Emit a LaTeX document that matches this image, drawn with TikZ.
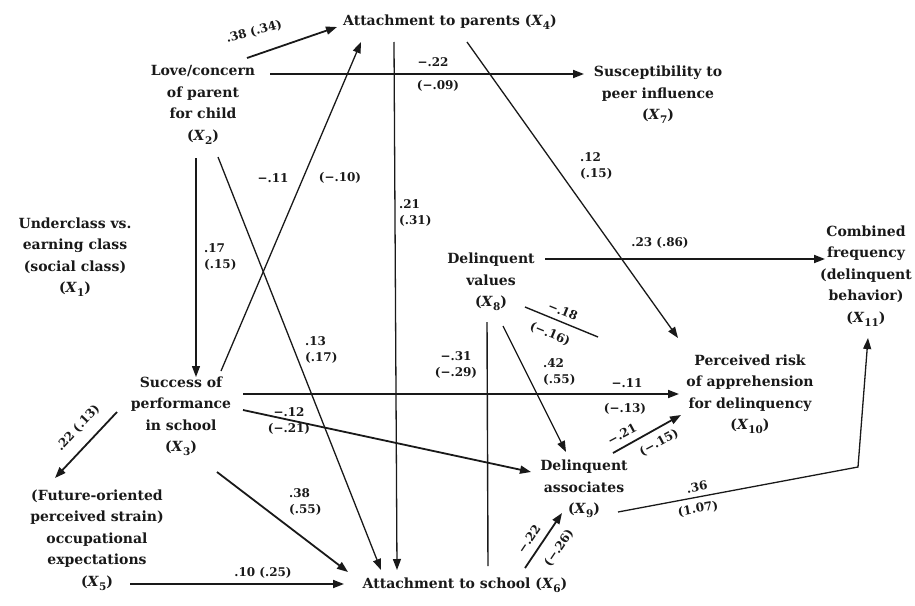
\documentclass[tikz,border=0pt]{standalone}
\usepackage{fontspec}
\setmainfont{DejaVu Serif}
\usetikzlibrary{arrows.meta}
\definecolor{inkblack}{RGB}{25,25,25}
\newcommand\varx[1]{\textit{X}\raisebox{-0.55ex}{\fontsize{10.5}{10.5}\selectfont#1}}

\begin{document}
\begin{tikzpicture}[
    x=1pt, y=-1pt,
    var/.style={align=center, inner sep=1pt, text=inkblack, font=\fontsize{14}{21.5}\selectfont\bfseries},
    coef/.style={align=left, inner sep=0pt, text=inkblack, font=\fontsize{12}{16.5}\selectfont\bfseries},
    effect/.style={-{Triangle[length=11pt,width=8pt]}, line width=1.8pt, draw=inkblack},
    thin effect/.style={effect, line width=1.3pt},
    link/.style={line width=1.4pt, draw=inkblack}
]
\useasboundingbox (0,0) rectangle (915,605);

\node[var] (x1) at (75,257) {Underclass vs.\\earning class\\(social class)\\(\varx{1})};
\node[var] (x2) at (203,105) {Love/concern\\of parent\\for child\\(\varx{2})};
\node[var] (x3) at (181,416) {Success of\\performance\\in school\\(\varx{3})};
\node[var] (x4) at (450,22) {Attachment to parents (\varx{4})};
\node[var] (x5) at (97,540) {(Future-oriented\\perceived strain)\\occupational\\expectations\\(\varx{5})};
\node[var] (x6) at (465,585) {Attachment to school (\varx{6})};
\node[var] (x7) at (658,95) {Susceptibility to\\peer influence\\(\varx{7})};
\node[var] (x8) at (491,282) {Delinquent\\values\\(\varx{8})};
\node[var] (x9) at (584,489) {Delinquent\\associates\\(\varx{9})};
\node[var] (x10) at (750,394) {Perceived risk\\of apprehension\\for delinquency\\(\varx{10})};
\node[var] (x11) at (866,276) {Combined\\frequency\\(delinquent\\behavior)\\(\varx{11})};

\coordinate (x8end) at (598,337);
\coordinate (bend) at (858,467);

\draw[effect] ([shift={(44,-47)}]x2.center) -- ([shift={(-113,5)}]x4.center);
\draw[effect] ([shift={(67,-31)}]x2.center) -- ([shift={(-74,-21)}]x7.center);
\draw[thin effect] ([shift={(-7,53)}]x2.center) -- ([shift={(15,-39)}]x3.center);
\draw[thin effect] ([shift={(15,52)}]x2.center) -- ([shift={(-84,-15)}]x6.center);
\draw[thin effect] ([shift={(40,-45)}]x3.center) -- ([shift={(-89,20)}]x4.center);
\draw[thin effect] ([shift={(-56,20)}]x4.center) -- ([shift={(-68,-15)}]x6.center);
\draw[thin effect] ([shift={(17,20)}]x4.center) -- ([shift={(-72,-56)}]x10.center);
\draw[effect] ([shift={(54,-23)}]x8.center) -- ([shift={(-41,-17)}]x11.center);
\draw[link] ([shift={(34,25)}]x8.center) -- (x8end);
\draw[link] ([shift={(-4,40)}]x8.center) -- ([shift={(23,-19)}]x6.center);
\draw[thin effect] ([shift={(12,44)}]x8.center) -- ([shift={(-18,-37)}]x9.center);
\draw[effect] ([shift={(62,-22)}]x3.center) -- ([shift={(-71,0)}]x10.center);
\draw[effect] ([shift={(62,-6)}]x3.center) -- ([shift={(-53,-17)}]x9.center);
\draw[effect] ([shift={(-64,-4)}]x3.center) -- ([shift={(-42,-62)}]x5.center);
\draw[effect] ([shift={(36,56)}]x3.center) -- ([shift={(-117,-13)}]x6.center);
\draw[effect] ([shift={(33,44)}]x5.center) -- ([shift={(-121,-1)}]x6.center);
\draw[effect] ([shift={(60,-17)}]x6.center) -- ([shift={(-22,24)}]x9.center);
\draw[effect] ([shift={(29,-36)}]x9.center) -- ([shift={(-69,21)}]x10.center);
\draw[thin effect] ([shift={(34,23)}]x9.center) -- (bend) -- ([shift={(2,62)}]x11.center);

\node[coef, rotate=15] (c24) at (254,32) {.38 (.34)};
\node[coef] (c27a) at (433,62) {−.22};
\node[coef] (c27b) at (438,86) {(−.09)};
\node[coef, anchor=west] (c23) at (204,257) {.17\\(.15)};
\node[coef, anchor=west] (c26) at (305,350) {.13\\(.17)};
\node[coef] (c34a) at (273,178) {−.11};
\node[coef] (c34b) at (340,178) {(−.10)};
\node[coef, anchor=west] (c46) at (399,213) {.21\\(.31)};
\node[coef, anchor=west] (c410) at (580,166) {.12\\(.15)};
\node[coef] (c811) at (660,243) {.23 (.86)};
\node[coef, rotate=-22] (c810a) at (563,311) {−.18};
\node[coef, rotate=-22] (c810b) at (550,334) {(−.16)};
\node[coef, align=center] (c86) at (456,365) {−.31\\(−.29)};
\node[coef, anchor=west] (c89) at (543,372) {.42\\(.55)};
\node[coef] (c310a) at (627,383) {−.11};
\node[coef] (c310b) at (625,409) {(−.13)};
\node[coef, align=center] (c39) at (289,421) {−.12\\(−.21)};
\node[coef, rotate=47] (c35) at (78,428) {.22 (.13)};
\node[coef, anchor=west] (c36) at (289,502) {.38\\(.55)};
\node[coef] (c56) at (263,573) {.10 (.25)};
\node[coef, rotate=56] (c69a) at (529,539) {−.22};
\node[coef, rotate=56] (c69b) at (559,548) {(−.26)};
\node[coef, rotate=28] (c910a) at (622,434) {−.21};
\node[coef, rotate=28] (c910b) at (659,443) {(−.15)};
\node[coef, rotate=10] (c911a) at (697,487) {.36};
\node[coef, rotate=10] (c911b) at (698,509) {(1.07)};
\end{tikzpicture}
\end{document}
